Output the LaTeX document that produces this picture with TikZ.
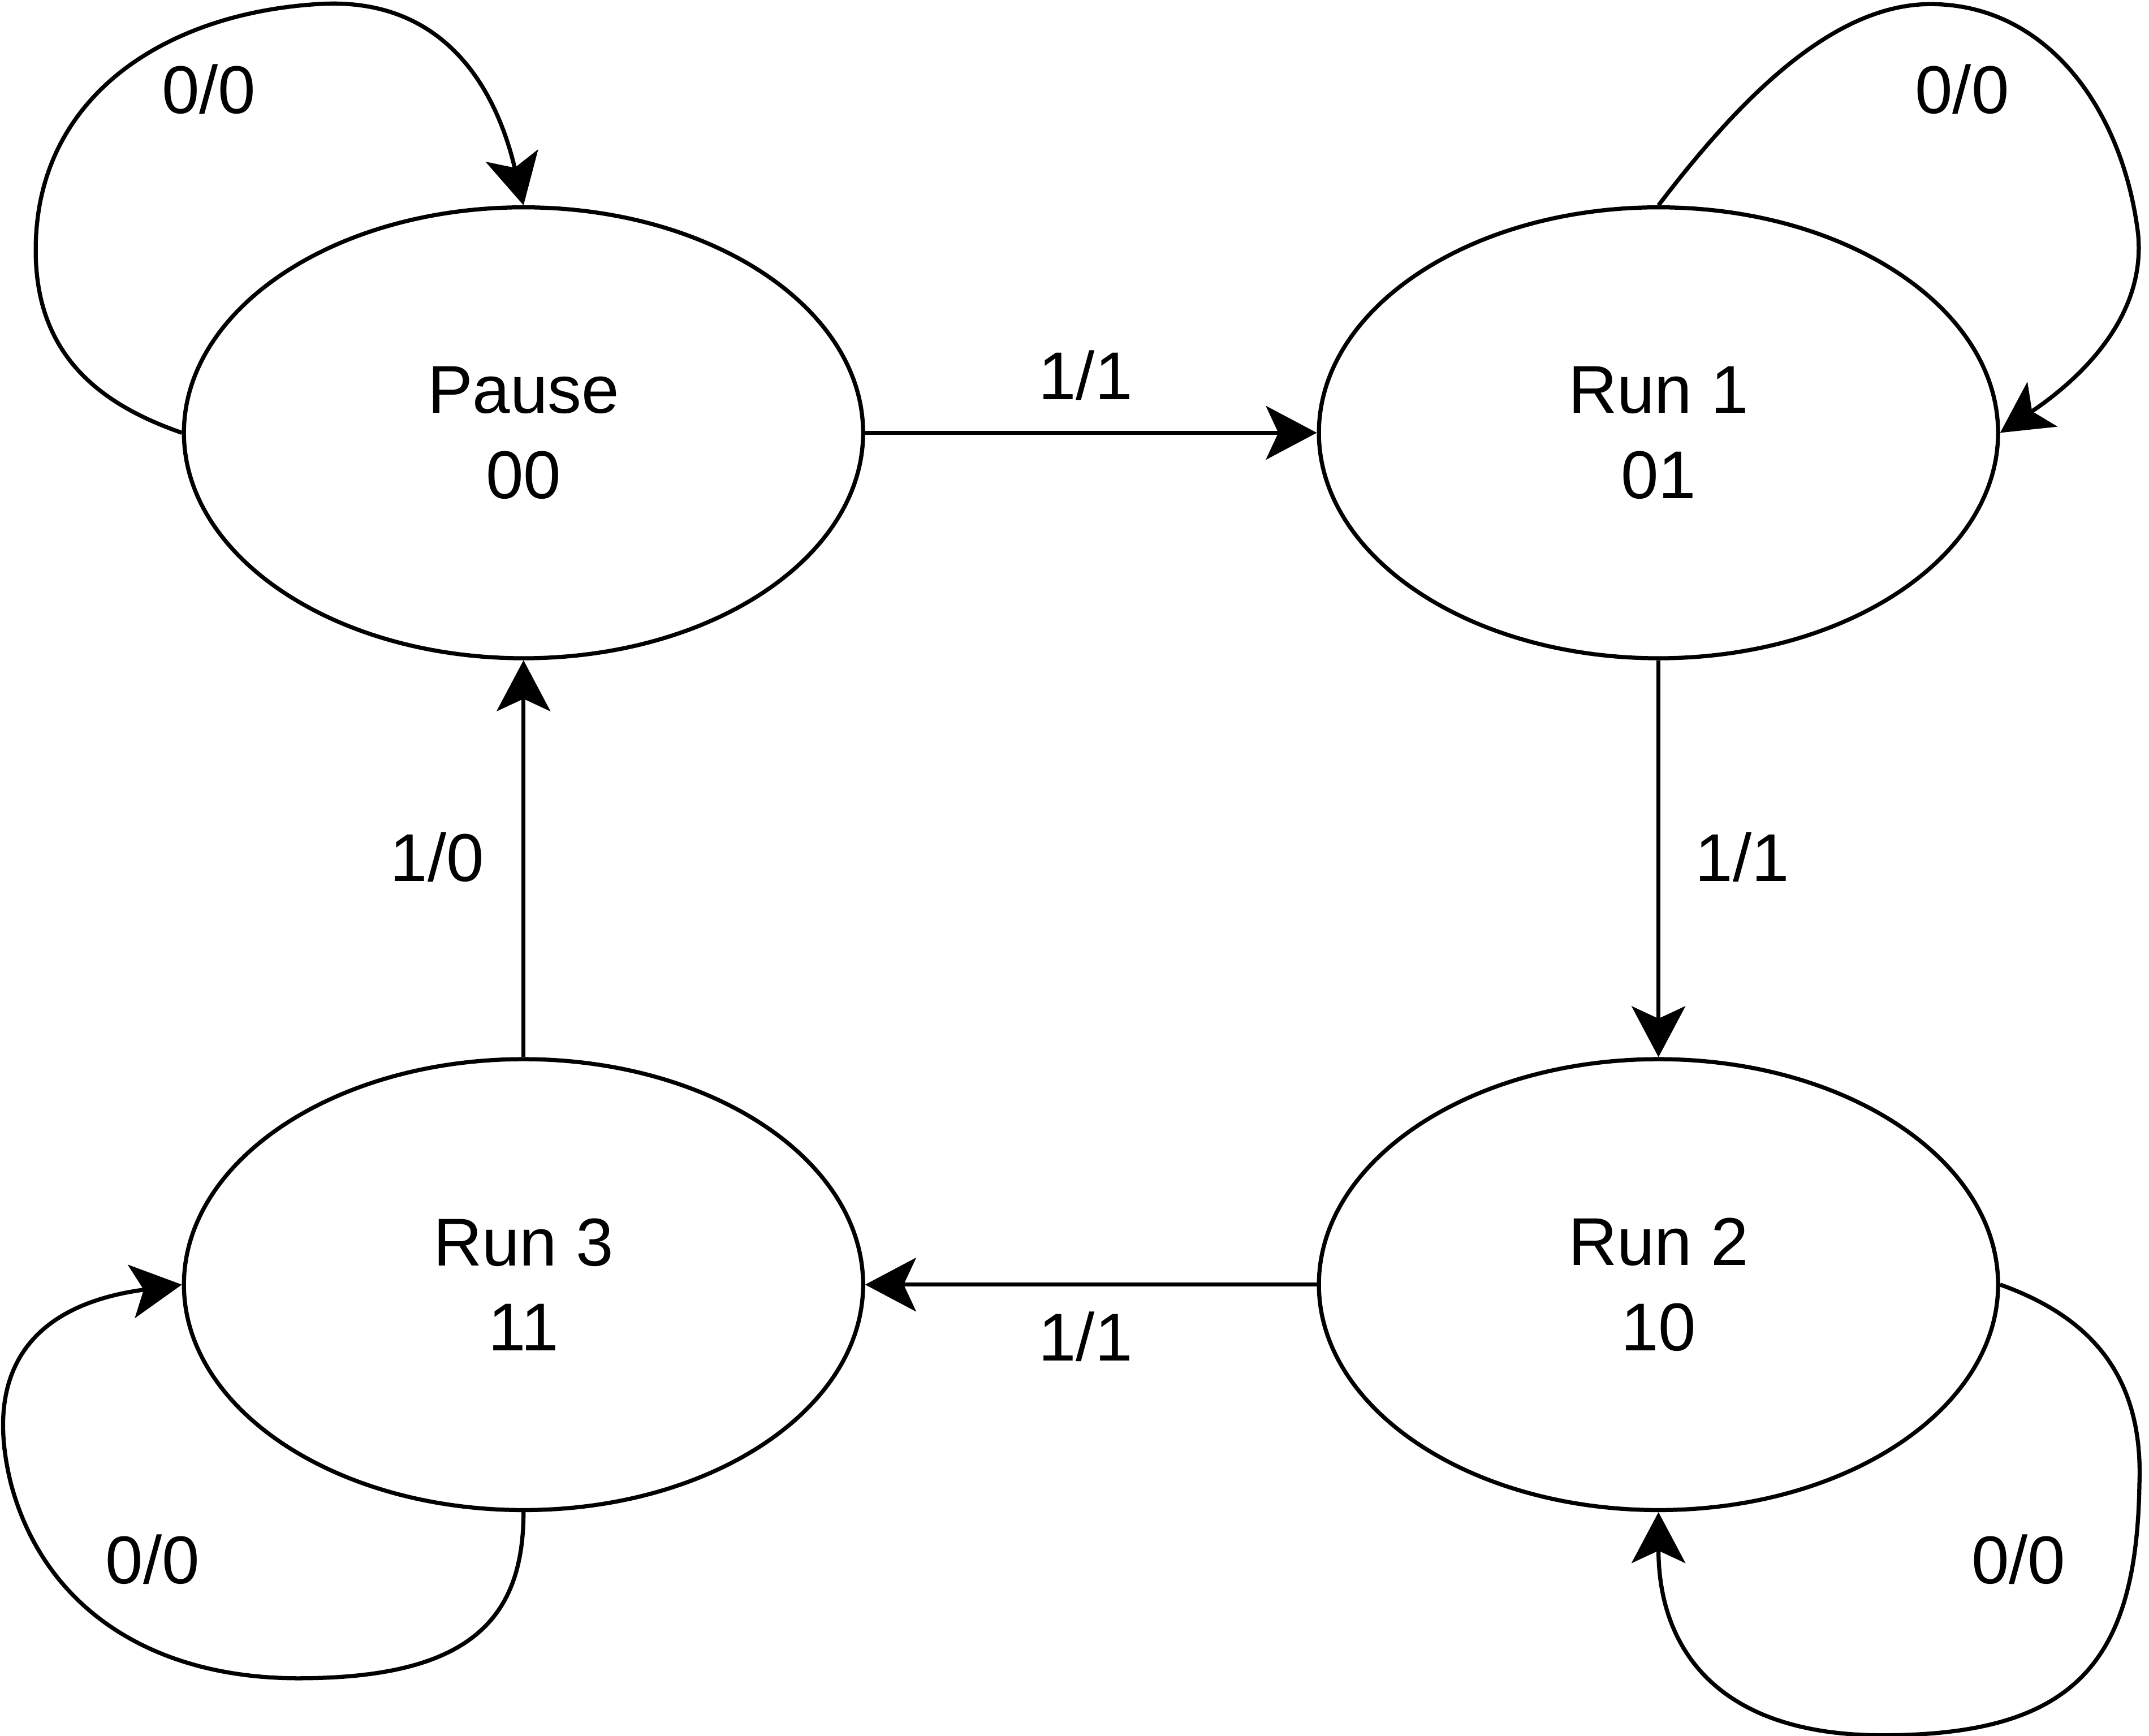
\documentclass[tikz,border=0pt]{standalone}
\usepackage{fontspec}
\setmainfont{Liberation Sans}
\usetikzlibrary{shapes.geometric,arrows.meta}
\begin{document}
\begin{tikzpicture}[x=0.01cm,y=-0.01cm,
  state/.style={draw=black,line width=0.85pt,ellipse,minimum width=4.94cm,minimum height=3.28cm,inner sep=0pt,align=center,font=\fontsize{14}{17.6}\selectfont},
  lbl/.style={font=\fontsize{14}{17}\selectfont,inner sep=0pt},
  edge/.style={draw=black,line width=0.85pt,-{Stealth[length=0.37cm,width=0.39cm,inset=0.09cm]}}]
\useasboundingbox (0,0) rectangle (1564,1263.5);
\node[state] (pause) at (381,315) {Pause\\00};
\node[state] (run1) at (1207,315) {Run 1\\01};
\node[state] (run2) at (1207,935) {Run 2\\10};
\node[state] (run3) at (381,935) {Run 3\\11};
% straight transitions
\draw[edge] (pause.east) -- (run1.west);
\draw[edge] (run1.south) -- (run2.north);
\draw[edge] (run2.west) -- (run3.east);
\draw[edge] (run3.north) -- (pause.south);
% self loops
\draw[edge] (pause.west) .. controls (75,295) and (25,260) .. (26,180)
  .. controls (27,70) and (120,10) .. (231,3)
  .. controls (320,-3) and (360,60) .. (pause.north);
\draw[edge] (run1.north) .. controls (1260,80) and (1330,3) .. (1405,3)
  .. controls (1490,3) and (1545,80) .. (1556,170)
  .. controls (1562,230) and (1515,275) .. (run1.east);
\draw[edge] (run2.east) .. controls (1520,958) and (1560,1000) .. (1557,1080)
  .. controls (1555,1210) and (1510,1263) .. (1370,1263)
  .. controls (1250,1263) and (1207,1200) .. (run2.south);
\draw[edge] (run3.south) .. controls (381,1180) and (340,1221.5) .. (217,1221.5)
  .. controls (110,1221.5) and (32,1170) .. (8,1080)
  .. controls (-12,1000) and (20,950) .. (run3.west);
% labels
\node[lbl] (t1) at (790,273) {1/1};
\node[lbl] (t2) at (1268,624) {1/1};
\node[lbl] (t3) at (790,973) {1/1};
\node[lbl] (t4) at (318,624) {1/0};
\node[lbl] (s0) at (152,65) {0/0};
\node[lbl] (s1) at (1428,65) {0/0};
\node[lbl] (s2) at (1469,1135) {0/0};
\node[lbl] (s3) at (111,1135) {0/0};
\end{tikzpicture}
\end{document}
